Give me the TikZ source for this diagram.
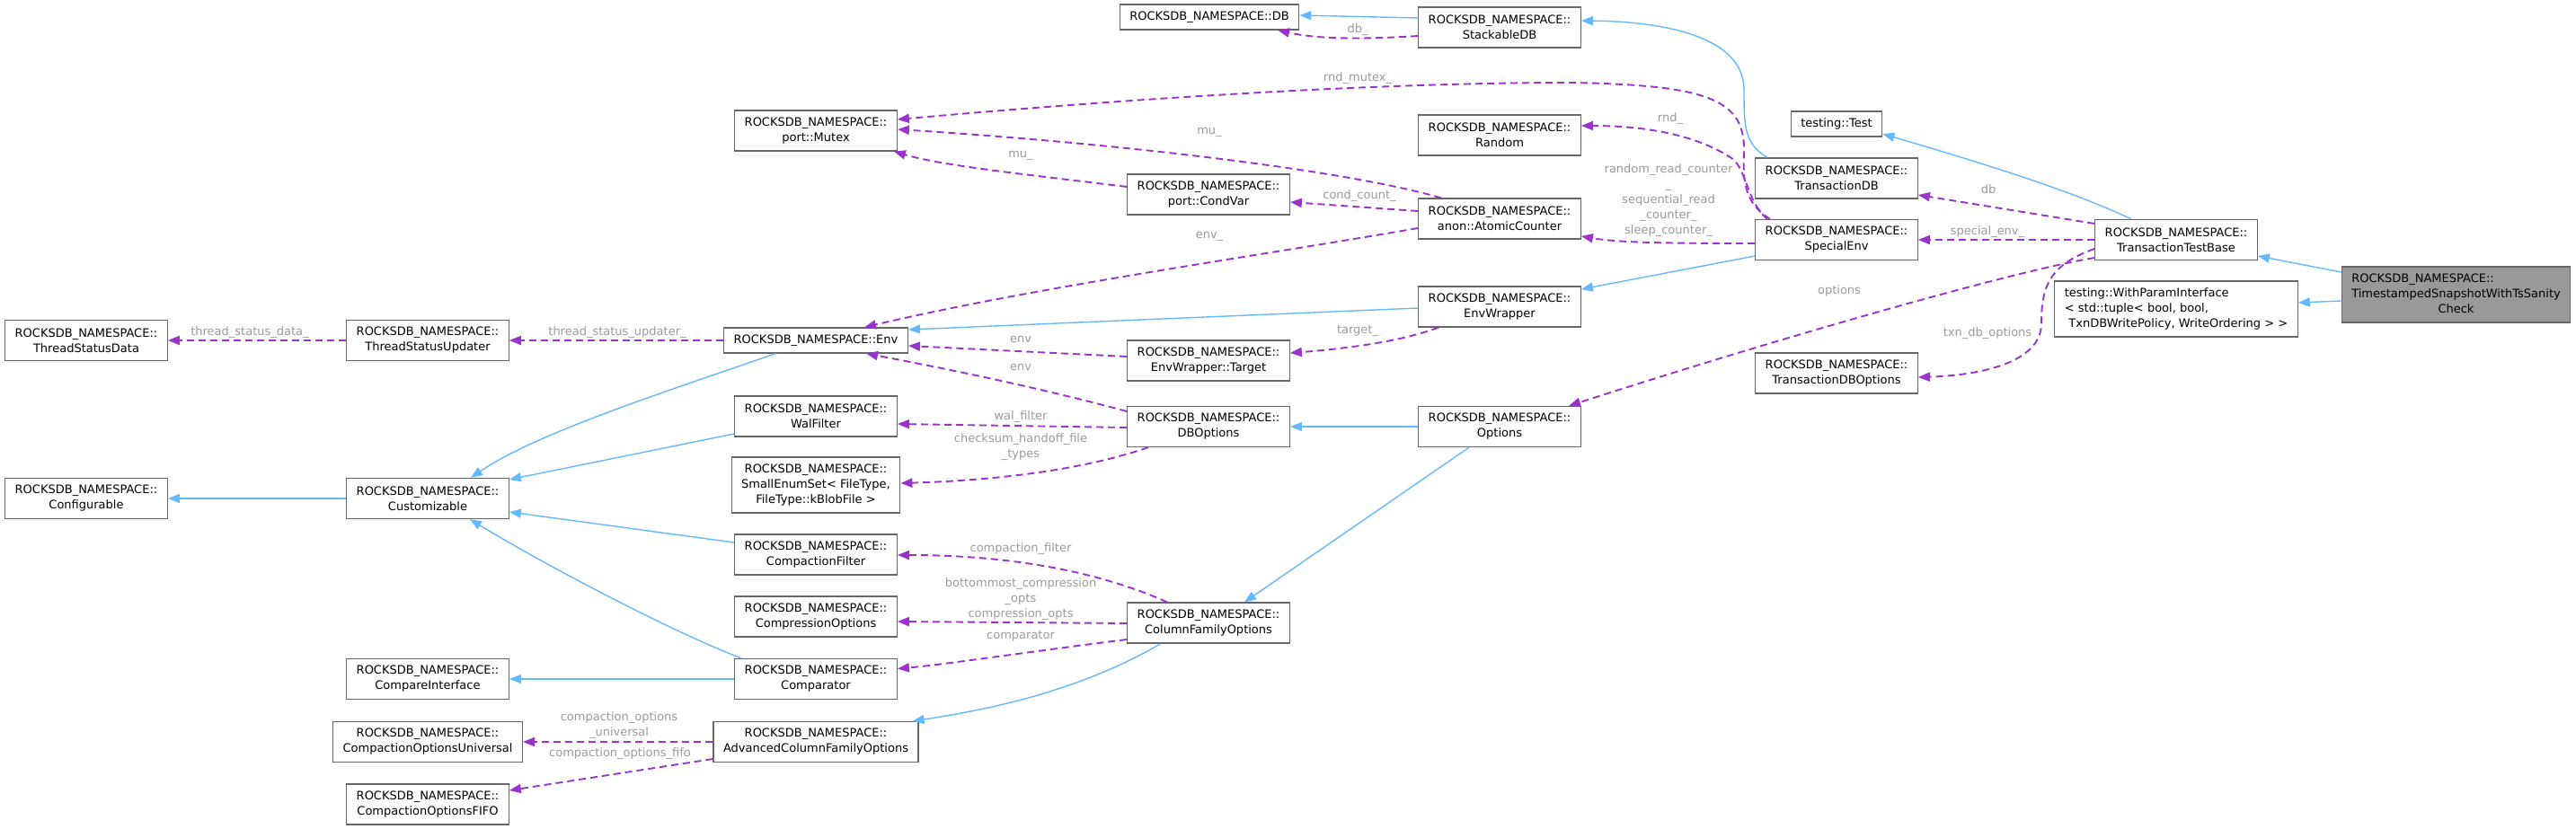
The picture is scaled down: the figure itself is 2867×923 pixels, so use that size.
\documentclass[tikz,border=0pt]{standalone}
\usepackage{fontspec}
\setmainfont{DejaVu Sans}
\usetikzlibrary{arrows.meta, positioning}

\definecolor{inhblue}{HTML}{63B8FF}
\definecolor{usepurple}{HTML}{9A32CD}
\definecolor{lblgray}{HTML}{9A9A9A}
\definecolor{boxgray}{HTML}{666666}
\definecolor{mainfill}{HTML}{999999}

\begin{document}
\begin{tikzpicture}[
    x=1pt, y=-1pt,
    every node/.style={font=\fontsize{13pt}{17pt}\selectfont},
    cls/.style={draw=boxgray, line width=1.2pt, fill=white, align=center,
        inner xsep=11pt, inner ysep=0pt, minimum height=45pt},
    oneline/.style={minimum height=28pt},
    threeline/.style={minimum height=62pt},
    inh/.style={-{Triangle[length=13pt,width=10pt]}, draw=inhblue, line width=1.4pt},
    use/.style={-{Triangle[length=13pt,width=10pt]}, draw=usepurple, line width=1.9pt,
        dash pattern=on 8pt off 5pt},
    lbl/.style={text=lblgray}
]
\useasboundingbox (0,0) rectangle (2867,923);

% Left columns
\node[cls] (tsdata) at (96,379) {ROCKSDB\_NAMESPACE::\\ThreadStatusData};
\node[cls] (tsupd) at (476,379) {ROCKSDB\_NAMESPACE::\\ThreadStatusUpdater};
\node[cls] (configurable) at (96,555) {ROCKSDB\_NAMESPACE::\\Configurable};
\node[cls] (customizable) at (476,555) {ROCKSDB\_NAMESPACE::\\Customizable};
\node[cls] (compareif) at (476,756) {ROCKSDB\_NAMESPACE::\\CompareInterface};
\node[cls] (coptuniv) at (476,826) {ROCKSDB\_NAMESPACE::\\CompactionOptionsUniversal};
\node[cls] (coptfifo) at (476,895.5) {ROCKSDB\_NAMESPACE::\\CompactionOptionsFIFO};

% Middle column
\node[cls, oneline] (db) at (1346,19) {ROCKSDB\_NAMESPACE::DB};
\node[cls] (mutex) at (908,145.5) {ROCKSDB\_NAMESPACE::\\port::Mutex};
\node[cls, oneline] (env) at (908,379) {ROCKSDB\_NAMESPACE::Env};
\node[cls] (walfilter) at (908,463.5) {ROCKSDB\_NAMESPACE::\\WalFilter};
\node[cls, threeline] (smallenum) at (908,540) {ROCKSDB\_NAMESPACE::\\SmallEnumSet< FileType,\\FileType::kBlobFile >};
\node[cls] (compfilter) at (908,617.5) {ROCKSDB\_NAMESPACE::\\CompactionFilter};
\node[cls] (compropts) at (908,686.5) {ROCKSDB\_NAMESPACE::\\CompressionOptions};
\node[cls] (comparator) at (908,756) {ROCKSDB\_NAMESPACE::\\Comparator};
\node[cls] (acfo) at (908,826) {ROCKSDB\_NAMESPACE::\\AdvancedColumnFamilyOptions};
\node[cls] (condvar) at (1345,216.5) {ROCKSDB\_NAMESPACE::\\port::CondVar};
\node[cls] (target) at (1345,401.5) {ROCKSDB\_NAMESPACE::\\EnvWrapper::Target};
\node[cls] (dboptions) at (1345,475) {ROCKSDB\_NAMESPACE::\\DBOptions};
\node[cls] (cfo) at (1345,693.5) {ROCKSDB\_NAMESPACE::\\ColumnFamilyOptions};
\node[cls] (stackable) at (1669,30.5) {ROCKSDB\_NAMESPACE::\\StackableDB};
\node[cls] (random) at (1669,150.5) {ROCKSDB\_NAMESPACE::\\Random};
\node[cls] (atomic) at (1669,243.5) {ROCKSDB\_NAMESPACE::\\anon::AtomicCounter};
\node[cls] (envwrap) at (1669,341.5) {ROCKSDB\_NAMESPACE::\\EnvWrapper};
\node[cls] (options) at (1669,475) {ROCKSDB\_NAMESPACE::\\Options};

% Right columns
\node[cls, oneline] (test) at (2044,138) {testing::Test};
\node[cls] (txndb) at (2044,198.5) {ROCKSDB\_NAMESPACE::\\TransactionDB};
\node[cls] (specialenv) at (2044,267) {ROCKSDB\_NAMESPACE::\\SpecialEnv};
\node[cls] (txndbopt) at (2044,415.5) {ROCKSDB\_NAMESPACE::\\TransactionDBOptions};
\node[cls] (ttb) at (2422,267) {ROCKSDB\_NAMESPACE::\\TransactionTestBase};
\node[cls, threeline, align=left] (withparam) at (2422,344)
    {testing::WithParamInterface\\< std::tuple< bool, bool,\\\hspace*{0.35em}TxnDBWritePolicy, WriteOrdering > >};
\node[cls, threeline, fill=mainfill] (tsanity) at (2733.5,328)
    {\begin{tabular}{@{}c@{}}\multicolumn{1}{@{}l@{}}{ROCKSDB\_NAMESPACE::}\\TimestampedSnapshotWithTsSanity\\Check\end{tabular}};

% Inheritance
\draw[inh] ([yshift=10.5pt]stackable.west) -- ([yshift=2pt]db.east);
\draw[inh] ([xshift=-77pt]txndb.north) .. controls (1941,160) and (1941,140) .. (1941,100)
    .. controls (1941,40) and (1850,24) .. ([yshift=7.5pt]stackable.east);
\draw[inh] ([xshift=-50pt]ttb.north) .. controls (2300,210) and (2200,180) .. ([yshift=-11pt]test.east);
\draw[inh] ([yshift=25pt]tsanity.west) -- ([yshift=-18pt]ttb.east);
\draw[inh] ([yshift=-7pt]tsanity.west) -- ([yshift=7pt]withparam.east);
\draw[inh] ([yshift=-18pt]specialenv.west) -- ([yshift=19.5pt]envwrap.east);
\draw[inh] ([yshift=-1.5pt]envwrap.west) -- ([yshift=12pt]env.east);
\draw[inh] ([xshift=-45pt]env.south) .. controls (760,430) and (600,480) .. ([xshift=48pt]customizable.north);
\draw[inh] ([yshift=-19.5pt]walfilter.west) -- ([yshift=-2pt]customizable.north east);
\draw[inh] ([yshift=13.5pt]compfilter.west) -- ([yshift=-15pt]customizable.east);
\draw[inh] ([xshift=-83pt]comparator.north) .. controls (740,700) and (600,625) .. ([xshift=47pt]customizable.south);
\draw[inh] (customizable.west) -- (configurable.east);
\draw[inh] (comparator.west) -- (compareif.east);
\draw[inh] (options.west) -- (dboptions.east);
\draw[inh] ([xshift=-34pt]options.south) -- ([xshift=40pt]cfo.north);
\draw[inh] ([xshift=-53pt]cfo.south) .. controls (1200,770) and (1100,790) .. ([xshift=-7pt]acfo.north east);

% Usage
\draw[use] ([yshift=-9.5pt]stackable.west) .. controls (1500,45) and (1460,42) .. ([xshift=76pt]db.south)
    node[lbl] at (1511,33) {db\_};
\draw[use] ([xshift=-74pt]specialenv.north) .. controls (1940,225) and (1940,200) .. (1941,170)
    .. controls (1943,110) and (1900,95) .. (1750,92)
    .. controls (1500,92) and (1200,115) .. ([yshift=12.5pt]mutex.east)
    node[lbl] at (1511,87) {rnd\_mutex\_};
\draw[use] ([xshift=-65pt]atomic.north) .. controls (1500,190) and (1250,160) .. ([yshift=1.5pt]mutex.east)
    node[lbl] at (1346,147) {mu\_};
\draw[use] ([yshift=8.5pt]condvar.west) .. controls (1150,195) and (1050,185) .. ([xshift=-4pt]mutex.south east)
    node[lbl] at (1136,173) {mu\_};
\draw[use] ([xshift=-77pt]specialenv.north) .. controls (1945,225) and (1945,195) .. (1930,178)
    .. controls (1890,150) and (1830,140) .. ([yshift=10.5pt]random.east)
    node[lbl] at (1859,132) {rnd\_};
\draw[use] ([yshift=-4pt]specialenv.west) .. controls (1850,271) and (1800,270) .. ([yshift=-19.5pt]atomic.east)
    node[lbl, align=center] at (1857,223) {random\_read\_counter\\\_\\sequential\_read\\\_counter\_\\sleep\_counter\_};
\draw[use] ([yshift=8.5pt]atomic.west) -- ([yshift=-8.5pt]condvar.east)
    node[lbl] at (1513,218) {cond\_count\_};
\draw[use] ([yshift=-10.5pt]atomic.west) .. controls (1400,285) and (1150,320) .. ([xshift=54pt]env.north)
    node[lbl] at (1346,263) {env\_};
\draw[use] (env.west) -- (tsupd.east) node[lbl] at (687,370) {thread\_status\_updater\_};
\draw[use] (tsupd.west) -- (tsdata.east) node[lbl] at (278,370) {thread\_status\_data\_};
\draw[use] ([xshift=-68pt]envwrap.south) .. controls (1560,380) and (1500,388) .. ([yshift=8.5pt]target.east)
    node[lbl] at (1511,368) {target\_};
\draw[use] ([yshift=4.5pt]target.west) -- ([yshift=-6pt]env.east) node[lbl] at (1136,378) {env};
\draw[use] ([yshift=17pt]dboptions.west) .. controls (1150,430) and (1050,410) .. ([xshift=56pt]env.south)
    node[lbl] at (1136,409) {env};
\draw[use] ([yshift=-1pt]dboptions.west) -- ([yshift=-8.5pt]walfilter.east) node[lbl] at (1136,464) {wal\_filter};
\draw[use] ([xshift=-67pt]dboptions.south) .. controls (1200,525) and (1100,535) .. ([yshift=2pt]smallenum.east)
    node[lbl, align=center] at (1136,498) {checksum\_handoff\_file\\\_types};
\draw[use] ([yshift=18pt]ttb.west) -- ([yshift=-18.5pt]txndb.east) node[lbl] at (2213,211) {db};
\draw[use] (ttb.west) -- (specialenv.east) node[lbl] at (2212,258) {special\_env\_};
\draw[use] ([yshift=-20pt]ttb.west) .. controls (2250,300) and (2000,370) .. ([xshift=77pt]options.north)
    node[lbl] at (2047,324) {options};
\draw[use] ([yshift=-10pt]ttb.west) .. controls (2280,295) and (2272,320) .. (2272,360)
    .. controls (2272,405) and (2200,418) .. ([yshift=-4.5pt]txndbopt.east)
    node[lbl] at (2212,371) {txn\_db\_options};
\draw[use] ([xshift=-46pt]cfo.north) .. controls (1220,635) and (1120,618) .. ([yshift=-0.5pt]compfilter.east)
    node[lbl] at (1136,611) {compaction\_filter};
\draw[use] ([yshift=-0.5pt]cfo.west) -- ([yshift=-5.5pt]compropts.east)
    node[lbl, align=center] at (1136,667) {bottommost\_compression\\\_opts\\compression\_opts};
\draw[use] ([yshift=-18.5pt]cfo.west) .. controls (1150,725) and (1050,740) .. ([yshift=11.5pt]comparator.east)
    node[lbl] at (1136,708) {comparator};
\draw[use] (acfo.west) -- (coptuniv.east) node[lbl, align=center] at (689,808) {compaction\_options\\\_universal};
\draw[use] ([yshift=-19pt]acfo.west) -- ([yshift=15.5pt]coptfifo.east) node[lbl] at (690,839) {compaction\_options\_fifo};
\end{tikzpicture}
\end{document}
